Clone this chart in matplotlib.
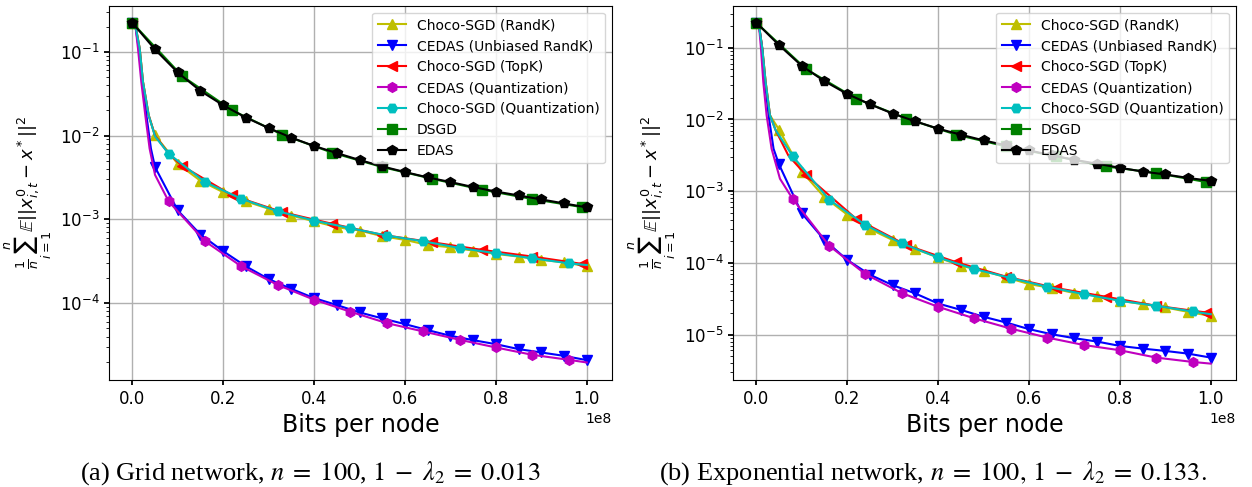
import numpy as np
from matplotlib import pyplot as plt

# x values are in units of 1e8 bits per node
# ---------------- (a) Grid network ----------------
grid_edas_x = [0, 0.05, 0.1, 0.15, 0.2, 0.25, 0.3, 0.35, 0.4, 0.45, 0.5,
               0.55, 0.6, 0.65, 0.7, 0.75, 0.8, 0.85, 0.9, 0.95, 1.0]
grid_edas_y = [0.222, 0.1066, 0.0566, 0.0341, 0.0230, 0.0164, 0.0123, 0.00945, 0.00751, 0.00619, 0.00511,
               0.00429, 0.00367, 0.00317, 0.00279, 0.00243, 0.00215, 0.00193, 0.00173, 0.00155, 0.00139]
grid_dsgd_x = [0, 0.11, 0.22, 0.33, 0.44, 0.55, 0.66, 0.77, 0.88, 0.99]
grid_dsgd_y = [0.222, 0.0512, 0.0200, 0.01025, 0.00625, 0.00421, 0.00305, 0.00226, 0.00175, 0.0014]
grid_choco_randk_x = [0, 0.0067, 0.0162, 0.0235, 0.036, 0.05, 0.1, 0.15, 0.2, 0.25, 0.3, 0.35, 0.4, 0.45, 0.5,
                      0.55, 0.6, 0.65, 0.7, 0.75, 0.8, 0.85, 0.9, 0.95, 1.0]
grid_choco_randk_y = [0.222, 0.208, 0.110, 0.0438, 0.0175, 0.01007, 0.00461, 0.00289, 0.00211, 0.00164,
                      0.00134, 0.00111, 0.00095, 0.000807, 0.000736, 0.000630, 0.000569, 0.000495,
                      0.000465, 0.000424, 0.000387, 0.000360, 0.000328, 0.000308, 0.000275]
grid_cedas_randk_x = [0, 0.0067, 0.014, 0.022, 0.031, 0.041, 0.05, 0.1, 0.15, 0.2, 0.25, 0.3, 0.35, 0.4, 0.45,
                      0.5, 0.55, 0.6, 0.65, 0.7, 0.75, 0.8, 0.85, 0.9, 0.95, 1.0]
grid_cedas_randk_y = [0.222, 0.208, 0.110, 0.0438, 0.0175, 0.0070, 0.00421, 0.00128, 0.000659, 0.000417,
                      0.000275, 0.000194, 0.000148, 0.000115, 9.5e-5, 7.76e-5, 6.58e-5, 5.62e-5, 4.77e-5,
                      4.08e-5, 3.62e-5, 3.24e-5, 2.83e-5, 2.58e-5, 2.35e-5, 2.09e-5]
grid_choco_topk_x = [0, 0.0067, 0.0162, 0.0235, 0.036, 0.05, 0.08, 0.11, 0.22, 0.33, 0.44, 0.55, 0.66,
                     0.77, 0.88, 0.99]
grid_choco_topk_y = [0.222, 0.208, 0.110, 0.0438, 0.0175, 0.0100, 0.0061, 0.00433, 0.00193, 0.00122,
                     0.000885, 0.000653, 0.000533, 0.000432, 0.00036, 0.000294]
grid_cedas_quant_x = [0, 0.0067, 0.0125, 0.0198, 0.0286, 0.0381, 0.05, 0.08, 0.16, 0.24, 0.32, 0.4, 0.48,
                      0.56, 0.64, 0.72, 0.8, 0.88, 0.96, 1.0]
grid_cedas_quant_y = [0.222, 0.208, 0.110, 0.0438, 0.0175, 0.0070, 0.0034, 0.00164, 0.000548, 0.000275,
                      0.000165, 0.00011, 7.9e-5, 5.78e-5, 4.6e-5, 3.66e-5, 2.96e-5, 2.42e-5, 2.11e-5, 1.96e-5]
grid_choco_quant_x = [0, 0.0067, 0.0162, 0.0235, 0.036, 0.05, 0.08, 0.16, 0.24, 0.32, 0.4, 0.48,
                      0.56, 0.64, 0.72, 0.8, 0.88, 0.96, 1.0]
grid_choco_quant_y = [0.222, 0.208, 0.110, 0.0438, 0.0175, 0.0098, 0.00608, 0.00279, 0.00176, 0.00125,
                      0.000968, 0.000785, 0.000641, 0.000548, 0.000456, 0.000394, 0.000344, 0.000299, 0.000285]

# ---------------- (b) Exponential network ----------------
exp_edas_x = grid_edas_x
exp_edas_y = [0.224, 0.109, 0.056, 0.0342, 0.0227, 0.0163, 0.0121, 0.00942, 0.00744, 0.00614, 0.00511,
              0.00435, 0.00371, 0.00316, 0.00274, 0.00241, 0.00212, 0.00188, 0.00171, 0.00153, 0.00139]
exp_dsgd_x = grid_dsgd_x
exp_dsgd_y = [0.224, 0.0503, 0.0195, 0.0103, 0.00614, 0.0042, 0.00306, 0.00221, 0.00179, 0.00134]
exp_choco_randk_x = [0, 0.0059, 0.0132, 0.0205, 0.0301, 0.05, 0.1, 0.15, 0.2, 0.25, 0.3, 0.35, 0.4, 0.45, 0.5,
                     0.55, 0.6, 0.65, 0.7, 0.75, 0.8, 0.85, 0.9, 0.95, 1.0]
exp_choco_randk_y = [0.224, 0.207, 0.098, 0.0334, 0.01145, 0.00721, 0.00188, 0.000824, 0.000472, 0.000297,
                     0.000208, 0.000156, 0.000119, 9.1e-5, 7.76e-5, 6.27e-5, 5.06e-5, 4.45e-5, 3.79e-5,
                     3.47e-5, 2.96e-5, 2.66e-5, 2.39e-5, 2.07e-5, 1.82e-5]
exp_cedas_randk_x = [0, 0.0059, 0.013, 0.019, 0.027, 0.038, 0.05, 0.1, 0.15, 0.2, 0.25, 0.3, 0.35, 0.4, 0.45,
                     0.5, 0.55, 0.6, 0.65, 0.7, 0.75, 0.8, 0.85, 0.9, 0.95, 1.0]
exp_cedas_randk_y = [0.224, 0.207, 0.098, 0.0334, 0.01145, 0.0039, 0.00236, 0.000492, 0.000208, 0.00011,
                     6.83e-5, 4.89e-5, 3.74e-5, 2.71e-5, 2.21e-5, 1.77e-5, 1.47e-5, 1.19e-5, 1.01e-5,
                     8.89e-6, 7.98e-6, 6.94e-6, 6.37e-6, 5.91e-6, 5.42e-6, 4.77e-6]
exp_choco_topk_x = [0, 0.0059, 0.0132, 0.0205, 0.0301, 0.0425, 0.0705, 0.11, 0.22, 0.33, 0.44, 0.55, 0.66,
                    0.77, 0.88, 0.99]
exp_choco_topk_y = [0.224, 0.207, 0.098, 0.0334, 0.01145, 0.0071, 0.00315, 0.00166, 0.00041, 0.000177,
                    0.000102, 6.41e-5, 4.45e-5, 3.36e-5, 2.52e-5, 2.03e-5]
exp_cedas_quant_x = [0, 0.0059, 0.0103, 0.0154, 0.0227, 0.0337, 0.0521, 0.08, 0.16, 0.24, 0.32, 0.4, 0.48,
                     0.56, 0.64, 0.72, 0.8, 0.88, 0.96, 1.0]
exp_cedas_quant_y = [0.224, 0.207, 0.098, 0.0334, 0.01145, 0.0039, 0.00149, 0.000781, 0.000174, 6.98e-5,
                     3.79e-5, 2.44e-5, 1.68e-5, 1.21e-5, 9.08e-6, 7.16e-6, 6.04e-6, 4.77e-6, 4.15e-6, 3.93e-6]
exp_choco_quant_x = [0, 0.0059, 0.0132, 0.0205, 0.0301, 0.0425, 0.08, 0.16, 0.24, 0.32, 0.4, 0.48,
                     0.56, 0.64, 0.72, 0.8, 0.88, 0.96, 1.0]
exp_choco_quant_y = [0.224, 0.207, 0.098, 0.0334, 0.01145, 0.0071, 0.00309, 0.000764, 0.000338, 0.000187,
                     0.000119, 8.2e-5, 6.14e-5, 4.64e-5, 3.67e-5, 2.96e-5, 2.52e-5, 2.1e-5, 1.92e-5]

labels = ["Choco-SGD (RandK)", "CEDAS (Unbiased RandK)", "Choco-SGD (TopK)", "CEDAS (Quantization)",
          "Choco-SGD (Quantization)", "DSGD", "EDAS"]
# colour, marker, marker spacing (1e8 bits)
styles = [("y", "^", 0.05), ("b", "v", 0.05), ("r", "<", 0.11), ("m", "h", 0.08),
          ("c", "H", 0.08), ("g", "s", 0.11), ("k", "p", 0.05)]

panels = [
    ([(grid_choco_randk_x, grid_choco_randk_y), (grid_cedas_randk_x, grid_cedas_randk_y),
      (grid_choco_topk_x, grid_choco_topk_y), (grid_cedas_quant_x, grid_cedas_quant_y),
      (grid_choco_quant_x, grid_choco_quant_y), (grid_dsgd_x, grid_dsgd_y), (grid_edas_x, grid_edas_y)],
     (10 ** -4.917, 10 ** -0.450),
     r"(a) Grid network, $n\;=\;100$, $1\;-\;\lambda_2\;=\;0.013$"),
    ([(exp_choco_randk_x, exp_choco_randk_y), (exp_cedas_randk_x, exp_cedas_randk_y),
      (exp_choco_topk_x, exp_choco_topk_y), (exp_cedas_quant_x, exp_cedas_quant_y),
      (exp_choco_quant_x, exp_choco_quant_y), (exp_dsgd_x, exp_dsgd_y), (exp_edas_x, exp_edas_y)],
     (10 ** -5.634, 10 ** -0.413),
     r"(b) Exponential network, $n\;=\;100,\,1\;-\;\lambda_2\;=\;0.133.$"),
]

fig = plt.figure(figsize=(12.52, 4.87), dpi=100)
lefts = [0.0873, 0.5857]
cap_x = [0.2476, 0.745]

for i, (series, ylim, caption) in enumerate(panels):
    ax = fig.add_axes([lefts[i], 0.2197, 0.4015, 0.7686])
    for (x, y), (col, mk, step), lab in zip(series, styles, labels):
        x = np.array(x)
        marks = np.where(np.isclose(np.round(x / step) * step, x))[0]
        ax.plot(x * 1e8, y, color=col, marker=mk, markersize=7, lw=1.5,
                markevery=list(marks), label=lab)
    ax.set_yscale("log")
    ax.set_xlim(-0.0506e8, 1.0555e8)
    ax.set_ylim(*ylim)
    ax.grid(True, lw=1.0)
    ax.tick_params(labelsize=12)
    ax.tick_params(which="major", width=1.3)
    ax.set_xlabel("Bits per node", fontsize=17)
    ax.set_ylabel(r"$\frac{1}{n}\sum_{i=1}^{n}\mathbb{E}||x_{i,t}^{0}-x^*||^2$", fontsize=13)
    ax.legend(loc="upper right", fontsize=10)
    fig.text(cap_x[i], 0.0287, caption, ha="center", va="center", fontsize=19,
             family="Liberation Serif", math_fontfamily="stix")

fig.savefig("out.png", dpi=100)
